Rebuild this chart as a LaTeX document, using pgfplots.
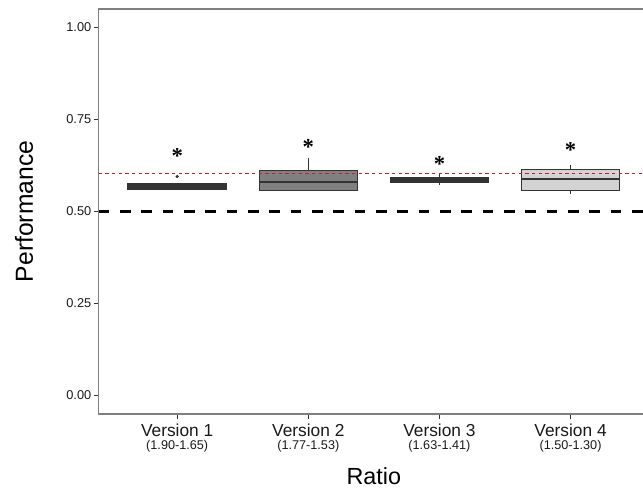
\documentclass[border=0pt]{standalone}
\usepackage{fontspec}
\setmainfont{Liberation Sans}
\newfontfamily\serifstar{Liberation Serif}
\usepackage{pgfplots}
\usepgfplotslibrary{statistics}
\pgfplotsset{compat=1.18}

\definecolor{darkbox}{HTML}{333333}
\definecolor{midbox}{HTML}{808080}
\definecolor{lightbox}{HTML}{D3D3D3}
\definecolor{refred}{RGB}{200,30,40}
\definecolor{framegray}{HTML}{7F7F7F}

\newcommand{\vlab}[2]{#1\\{\fontsize{9.5}{9.75}\selectfont #2}}

\begin{document}
\begin{tikzpicture}
\begin{axis}[
    name=ax,
    set layers,
    at={(0,0)}, anchor=south west,
    scale only axis,
    width=413pt, height=303.75pt,
    xmin=0.4, xmax=4.6,
    ymin=-0.05, ymax=1.05,
    xtick={1,2,3,4},
    xticklabels={\vlab{Version 1}{(1.90-1.65)},\vlab{Version 2}{(1.77-1.53)},\vlab{Version 3}{(1.63-1.41)},\vlab{Version 4}{(1.50-1.30)}},
    ytick={0,0.25,0.5,0.75,1},
    /pgf/number format/fixed,
    /pgf/number format/fixed zerofill,
    /pgf/number format/precision=2,
    /pgf/number format/assume math mode=true,
    yticklabel style={font=\fontsize{9.6}{10}\selectfont, color=black!90, inner xsep=1.5pt},
    xticklabel style={align=center, font=\fontsize{13}{10.2}\selectfont, color=black!90},
    tick align=outside,
    xtick pos=bottom, ytick pos=left,
    major tick length=3.75pt,
    tick style={draw=darkbox, line width=0.6pt},
    axis line style={draw=framegray, line width=0.8pt},
    xlabel={Ratio},
    ylabel={Performance},
    xlabel style={at={(axis description cs:0.5,0)}, anchor=base, yshift=-53.25pt, font=\fontsize{17.5}{18}\selectfont},
    ylabel style={at={(axis description cs:0,0.5)}, anchor=center, yshift=55.9pt, font=\fontsize{18.5}{19}\selectfont},
    boxplot/draw direction=y,
    boxplot/box extend=0.75,
    boxplot/whisker extend=0,
    boxplot/every median/.style={line width=1.8pt},
]
% reference lines (kept on the foreground layer, above the boxes)
\addplot[color=refred, line width=1pt, dash pattern=on 2.6pt off 2.4pt, on layer=axis foreground] coordinates {(0.4,0.603) (4.6,0.603)};
\addplot[color=black, line width=2.5pt, dash pattern=on 8pt off 8pt, on layer=axis foreground] coordinates {(0.4,0.5) (4.6,0.5)};
% boxes
\addplot[draw=darkbox, fill=darkbox, line width=0.9pt, boxplot prepared={
    lower whisker=0.560, lower quartile=0.560, median=0.568,
    upper quartile=0.576, upper whisker=0.576, draw position=1}] coordinates {};
\addplot[draw=darkbox, fill=midbox, line width=0.9pt, boxplot prepared={
    lower whisker=0.556, lower quartile=0.556, median=0.580,
    upper quartile=0.612, upper whisker=0.646, draw position=2}] coordinates {};
\addplot[draw=darkbox, fill=darkbox, line width=0.9pt, boxplot prepared={
    lower whisker=0.573, lower quartile=0.578, median=0.585,
    upper quartile=0.591, upper whisker=0.603, draw position=3}] coordinates {};
\addplot[draw=darkbox, fill=lightbox, line width=0.9pt, boxplot prepared={
    lower whisker=0.547, lower quartile=0.558, median=0.588,
    upper quartile=0.615, upper whisker=0.627, draw position=4}] coordinates {};
% outlier
\addplot[only marks, mark=*, mark size=1pt, color=darkbox] coordinates {(1,0.595)};
% significance stars
\addplot[draw=none, mark=none, nodes near coords={*},
    every node near coord/.append style={font=\serifstar\bfseries\fontsize{17}{17}\selectfont, anchor=center, inner sep=0pt}]
    coordinates {(1,0.651) (2,0.674) (3,0.630) (4,0.667)};
\end{axis}
\pgfresetboundingbox
\useasboundingbox (-73.9pt,-55.5pt) rectangle (408.35pt,310.5pt);
\end{tikzpicture}
\end{document}
